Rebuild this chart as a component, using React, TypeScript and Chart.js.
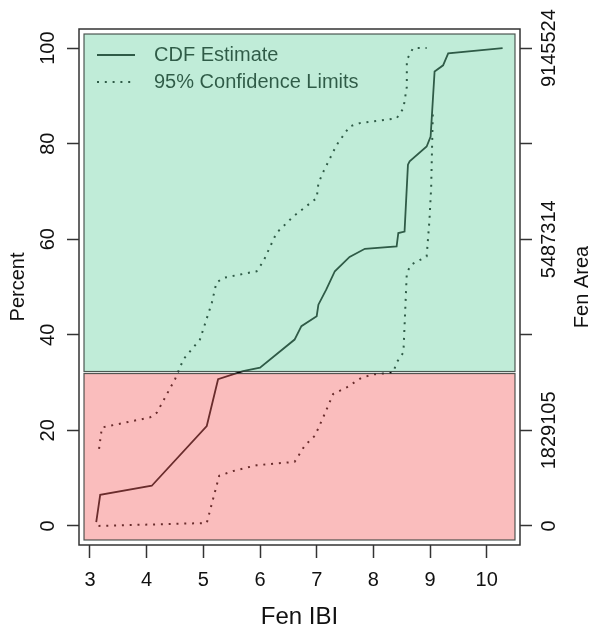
import React, { useEffect, useRef } from 'react';
import { Chart, registerables } from 'chart.js';

Chart.register(...registerables);

// ---- data ----
const cdfIbi = [3.11, 3.18, 4.09, 5.06, 5.26, 5.70, 6.00, 6.61, 6.73, 7.00, 7.03, 7.17, 7.32, 7.58, 7.85, 8.41, 8.44, 8.55, 8.61, 8.64, 8.94, 9.01, 9.08, 9.23, 9.32, 10.28];
const cdfPct = [0.8, 6.5, 8.4, 20.9, 30.7, 32.4, 33.1, 39.0, 41.8, 43.9, 46.3, 49.5, 53.3, 56.3, 58.0, 58.5, 61.3, 61.6, 75.6, 76.3, 79.4, 81.5, 95.1, 96.4, 98.9, 100];

const upperIbi = [3.16, 3.21, 4.06, 4.18, 4.50, 4.65, 4.94, 5.15, 5.23, 5.35, 5.94, 6.06, 6.29, 6.59, 7.00, 7.03, 7.12, 7.35, 7.58, 7.76, 8.41, 8.53, 8.59, 8.59, 8.70, 8.94];
const upperPct = [16.1, 20.6, 22.7, 23.7, 30.7, 34.9, 39.0, 46.7, 50.9, 51.9, 53.3, 55.4, 61.3, 64.8, 68.6, 71.7, 74.2, 79.7, 83.6, 84.3, 85.3, 87.4, 91.9, 97.5, 100, 100];

const lowerIbi = [3.15, 5.06, 5.28, 5.53, 5.94, 6.61, 6.79, 6.97, 7.14, 7.29, 7.53, 7.79, 8.00, 8.35, 8.41, 8.53, 8.59, 8.67, 8.94, 8.99, 9.02, 9.05];
const lowerPct = [0, 0.6, 10.5, 11.5, 12.7, 13.4, 16.8, 18.9, 23.4, 27.6, 29.0, 31.0, 31.7, 32.1, 34.2, 36.3, 53.0, 54.7, 56.4, 64.1, 71.0, 87.1];

const xTicks = [3, 4, 5, 6, 7, 8, 9, 10];
const yTicks = [0, 20, 40, 60, 80, 100];
const areaTickLabels = ['0', '1829105', '', '5487314', '', '9145524'];
const legendLabels = ['CDF Estimate', '95% Confidence Limits'];
const xLimits = [2.806, 10.587];
const yLimits = [-4, 104];
const regionBreak = 32.1; // percent where the red (low) region meets the green (high) region

const FONT = "'Liberation Sans', Arial, sans-serif";
const AXIS_COLOR = '#333333';

function zip(xs: number[], ys: number[]) {
  return xs.map((x, i) => ({ x, y: ys[i] }));
}

const regionPlugin = {
  id: 'regionsAndFrame',
  afterDatasetsDraw(chart: any) {
    const { ctx, chartArea } = chart;
    const yScale = chart.scales.y;
    const { left, right, top, bottom } = chartArea;

    // legend (drawn inside the plot, beneath the tint)
    ctx.save();
    ctx.strokeStyle = '#000';
    ctx.lineWidth = 1.8;
    const lx0 = left + 18;
    const lx1 = left + 56;
    const rows = [top + 26, top + 53];
    ctx.beginPath();
    ctx.moveTo(lx0, rows[0]);
    ctx.lineTo(lx1, rows[0]);
    ctx.stroke();
    ctx.setLineDash([2, 5.8]);
    ctx.lineWidth = 2;
    ctx.beginPath();
    ctx.moveTo(lx0, rows[1]);
    ctx.lineTo(lx1, rows[1]);
    ctx.stroke();
    ctx.setLineDash([]);
    ctx.fillStyle = '#000';
    ctx.font = `20px ${FONT}`;
    ctx.textAlign = 'left';
    ctx.textBaseline = 'middle';
    ctx.fillText(legendLabels[0], left + 75, rows[0]);
    ctx.fillText(legendLabels[1], left + 75, rows[1]);
    ctx.restore();

    // tinted regions
    const inset = 5;
    const breakPx = yScale.getPixelForValue(regionBreak);
    const rx0 = left + inset;
    const rx1 = right - inset;
    ctx.save();
    ctx.fillStyle = 'rgba(108, 211, 164, 0.43)';
    ctx.fillRect(rx0, top + inset, rx1 - rx0, breakPx - 1 - (top + inset));
    ctx.fillStyle = 'rgba(243, 101, 101, 0.43)';
    ctx.fillRect(rx0, breakPx + 1, rx1 - rx0, bottom - inset - (breakPx + 1));
    ctx.strokeStyle = 'rgba(50, 60, 55, 0.85)';
    ctx.lineWidth = 1.2;
    ctx.strokeRect(rx0, top + inset, rx1 - rx0, breakPx - 1 - (top + inset));
    ctx.strokeRect(rx0, breakPx + 1, rx1 - rx0, bottom - inset - (breakPx + 1));
    ctx.restore();

    // outer frame
    ctx.save();
    ctx.strokeStyle = AXIS_COLOR;
    ctx.lineWidth = 1.5;
    ctx.strokeRect(left, top, right - left, bottom - top);
    ctx.restore();

    // right axis title
    const y2 = chart.scales.y2;
    ctx.save();
    ctx.translate(y2.right - 19, (top + bottom) / 2);
    ctx.rotate(-Math.PI / 2);
    ctx.fillStyle = '#111';
    ctx.font = `20px ${FONT}`;
    ctx.textAlign = 'center';
    ctx.textBaseline = 'middle';
    ctx.fillText('Fen Area', 0, 0);
    ctx.restore();
  },
};

export default function App() {
  const canvasRef = useRef<HTMLCanvasElement | null>(null);

  useEffect(() => {
    document.body.style.margin = '0';
    const canvas = canvasRef.current;
    if (!canvas) return;

    const tickFont = { size: 20, family: FONT };
    const chart = new Chart(canvas, {
      type: 'line',
      data: {
        datasets: [
          {
            label: legendLabels[0],
            data: zip(cdfIbi, cdfPct),
            borderColor: '#000',
            borderWidth: 1.8,
            pointRadius: 0,
            tension: 0,
            fill: false,
          },
          {
            label: legendLabels[1],
            data: zip(upperIbi, upperPct),
            borderColor: '#000',
            borderWidth: 2,
            borderDash: [2, 5.8],
            pointRadius: 0,
            tension: 0,
            fill: false,
          },
          {
            label: 'lower',
            data: zip(lowerIbi, lowerPct),
            borderColor: '#000',
            borderWidth: 2,
            borderDash: [2, 5.8],
            pointRadius: 0,
            tension: 0,
            fill: false,
          },
        ],
      },
      options: {
        animation: false,
        responsive: true,
        maintainAspectRatio: false,
        layout: { padding: { top: 29, left: 0, right: 0, bottom: 0 } },
        plugins: {
          legend: { display: false },
          tooltip: { enabled: false },
        },
        scales: {
          x: {
            type: 'linear',
            position: 'bottom',
            min: xLimits[0],
            max: xLimits[1],
            afterBuildTicks: (s: any) => {
              s.ticks = xTicks.map((v) => ({ value: v }));
            },
            afterFit: (s: any) => {
              s.height = 84;
            },
            grid: {
              display: true,
              drawOnChartArea: false,
              drawTicks: true,
              tickLength: 13,
              tickWidth: 1.5,
              tickColor: AXIS_COLOR,
            },
            border: { display: false },
            ticks: {
              autoSkip: false,
              maxRotation: 0,
              minRotation: 0,
              padding: 10,
              color: '#111',
              font: tickFont,
              callback: (v: any) => String(v),
            },
            title: {
              display: true,
              text: 'Fen IBI',
              color: '#111',
              font: { size: 24, family: FONT, lineHeight: 1 },
              padding: { top: 0, bottom: 0 },
            },
          },
          y: {
            type: 'linear',
            position: 'left',
            min: yLimits[0],
            max: yLimits[1],
            afterBuildTicks: (s: any) => {
              s.ticks = yTicks.map((v) => ({ value: v }));
            },
            afterFit: (s: any) => {
              s.width = 79;
            },
            grid: {
              display: true,
              drawOnChartArea: false,
              drawTicks: true,
              tickLength: 12,
              tickWidth: 1.5,
              tickColor: AXIS_COLOR,
            },
            border: { display: false },
            ticks: {
              minRotation: 90,
              maxRotation: 90,
              crossAlign: 'center',
              padding: 2,
              color: '#111',
              font: tickFont,
              callback: (v: any) => String(v),
            },
            title: {
              display: true,
              text: 'Percent',
              color: '#111',
              font: { size: 20, family: FONT, lineHeight: 1.2 },
              padding: { top: 6, bottom: 0 },
            },
          },
          y2: {
            type: 'linear',
            position: 'right',
            min: yLimits[0],
            max: yLimits[1],
            afterBuildTicks: (s: any) => {
              s.ticks = yTicks.map((v) => ({ value: v }));
            },
            afterFit: (s: any) => {
              s.width = 81;
            },
            grid: {
              display: true,
              drawOnChartArea: false,
              drawTicks: true,
              tickLength: 12,
              tickWidth: 1.5,
              tickColor: AXIS_COLOR,
            },
            border: { display: false },
            ticks: {
              minRotation: 90,
              maxRotation: 90,
              crossAlign: 'center',
              padding: -21,
              color: '#111',
              font: tickFont,
              callback: (_v: any, i: number) => areaTickLabels[i],
            },
          },
        },
      } as any,
      plugins: [regionPlugin],
    });

    return () => {
      chart.destroy();
    };
  }, []);

  return (
    <div style={{ width: 601, height: 629, position: 'relative', background: '#fff' }}>
      <canvas ref={canvasRef} style={{ display: 'block' }} />
    </div>
  );
}
